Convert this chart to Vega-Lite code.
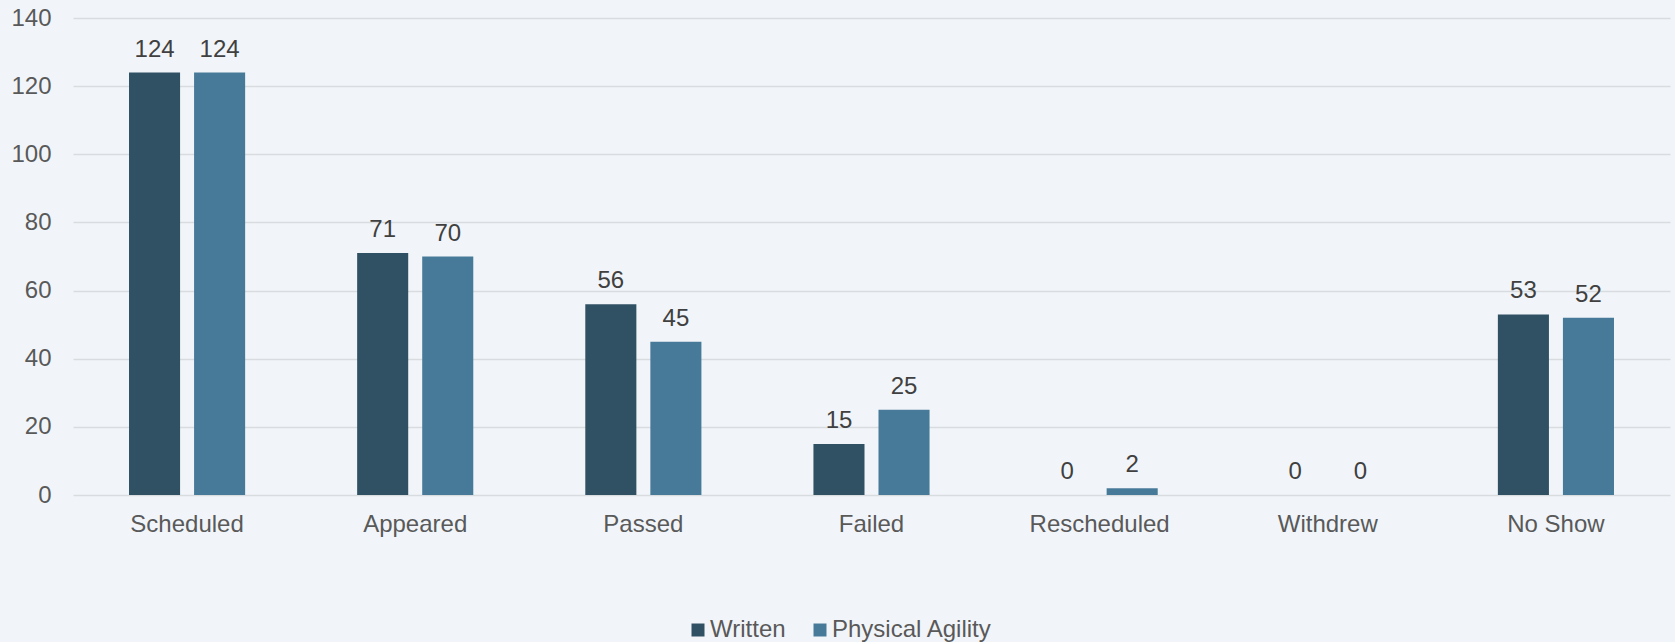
{
  "$schema": "https://vega.github.io/schema/vega-lite/v6.json",
  "width": 1597,
  "height": 477,
  "autosize": {"type": "none"},
  "padding": {"left": 73, "top": 18, "right": 5, "bottom": 147},
  "background": "#f1f5f9",
  "config": {
    "view": {"stroke": null},
    "font": "Liberation Sans"
  },
  "data": {
    "values": [
      {"category": "Scheduled", "series": "Written", "value": 124},
      {"category": "Scheduled", "series": "Physical Agility", "value": 124},
      {"category": "Appeared", "series": "Written", "value": 71},
      {"category": "Appeared", "series": "Physical Agility", "value": 70},
      {"category": "Passed", "series": "Written", "value": 56},
      {"category": "Passed", "series": "Physical Agility", "value": 45},
      {"category": "Failed", "series": "Written", "value": 15},
      {"category": "Failed", "series": "Physical Agility", "value": 25},
      {"category": "Rescheduled", "series": "Written", "value": 0},
      {"category": "Rescheduled", "series": "Physical Agility", "value": 2},
      {"category": "Withdrew", "series": "Written", "value": 0},
      {"category": "Withdrew", "series": "Physical Agility", "value": 0},
      {"category": "No Show", "series": "Written", "value": 53},
      {"category": "No Show", "series": "Physical Agility", "value": 52}
    ]
  },
  "encoding": {
    "x": {
      "field": "category",
      "type": "nominal",
      "sort": null,
      "scale": {"paddingInner": 0.491, "paddingOuter": 0.2455},
      "axis": {
        "title": null,
        "labelAngle": 0,
        "ticks": false,
        "tickSize": 0,
        "domain": false,
        "labelPadding": 17,
        "labelFontSize": 24,
        "labelColor": "#595959",
        "labelFont": "Liberation Sans"
      }
    },
    "xOffset": {
      "field": "series",
      "type": "nominal",
      "sort": ["Written", "Physical Agility"],
      "scale": {"paddingInner": 0.215, "paddingOuter": 0}
    },
    "y": {
      "field": "value",
      "type": "quantitative",
      "scale": {"domain": [0, 140], "nice": false},
      "axis": {
        "title": null,
        "values": [0, 20, 40, 60, 80, 100, 120, 140],
        "ticks": false,
        "tickSize": 0,
        "domain": false,
        "labelPadding": 22,
        "labelFontSize": 24,
        "labelColor": "#595959",
        "labelFont": "Liberation Sans",
        "gridColor": "#d9dcdf",
        "gridWidth": 1.4
      }
    }
  },
  "layer": [
    {
      "mark": {"type": "bar"},
      "encoding": {
        "color": {
          "field": "series",
          "type": "nominal",
          "sort": ["Written", "Physical Agility"],
          "scale": {"domain": ["Written", "Physical Agility"], "range": ["#2f5163", "#477a98"]},
          "legend": {
            "title": null,
            "orient": "none",
            "direction": "horizontal",
            "legendX": 613,
            "legendY": 600,
            "padding": 0,
            "symbolType": "square",
            "symbolSize": 169,
            "symbolStrokeWidth": 0,
            "labelFontSize": 24,
            "labelColor": "#595959",
            "labelFont": "Liberation Sans",
            "labelLimit": 0,
            "labelOffset": 0,
            "columnPadding": 22
          }
        }
      }
    },
    {
      "mark": {"type": "text", "baseline": "alphabetic", "dy": -16, "fontSize": 24, "color": "#404040", "font": "Liberation Sans"},
      "encoding": {
        "text": {"field": "value", "type": "quantitative"}
      }
    }
  ]
}
